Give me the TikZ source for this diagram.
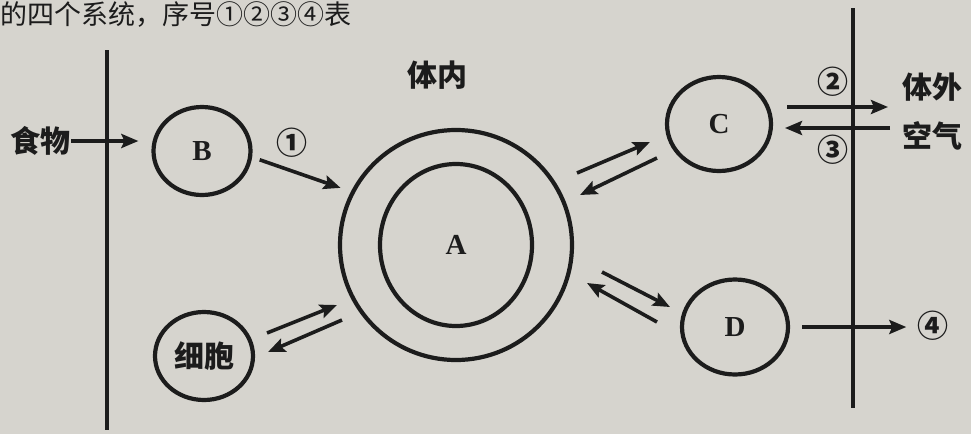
\documentclass[tikz,border=0pt]{standalone}
\usepackage{fontspec}
\setmainfont{Liberation Serif}
\newfontfamily\cjk{Noto Sans CJK SC}
\usetikzlibrary{positioning,arrows.meta,shapes.geometric}
\definecolor{paper}{RGB}{214,212,206}
\definecolor{ink}{RGB}{28,28,28}

\begin{document}
\begin{tikzpicture}[x=1pt,y=-1pt,
  sys/.style={ellipse,draw=ink,line width=4.2pt,inner sep=0pt},
  lab/.style={font=\cjk\bfseries\fontsize{30}{30}\selectfont,text=ink,inner sep=1pt},
  num/.style={font=\cjk\bfseries\fontsize{31}{31}\selectfont,text=ink,inner sep=1pt},
  let/.style={font=\bfseries\fontsize{29}{29}\selectfont,text=ink},
  arr/.style={draw=ink,line width=3.6pt,-{Stealth[length=17pt,width=14pt,inset=3pt]}},
  wall/.style={draw=ink,line width=4.5pt}
]
\fill[paper] (0,0) rectangle (971,434);
\clip (0,0) rectangle (971,434);

% line of the question above
\node[anchor=base west,inner sep=0pt,text=ink,font=\cjk\fontsize{27}{27}\selectfont] (qline) at (0,24) {的四个系统，序号①②③④表};

% body walls
\draw[wall] (107,50) -- (107,430);
\draw[wall] (853,8) -- (853,408);

% systems
\node[sys,minimum width=232pt,minimum height=230pt] (Aout) at (456,245) {};
\node[sys,let,minimum width=152pt,minimum height=162pt] (A) at (456,245) {A};
\node[sys,let,minimum width=97pt,minimum height=88pt] (B) at (202,151) {B};
\node[sys,let,minimum width=104pt,minimum height=94pt] (C) at (719,124) {C};
\node[sys,let,minimum width=106pt,minimum height=95pt] (D) at (735,327) {D};
\node[sys,lab,minimum width=98pt,minimum height=88pt] (cell) at (204,356) {细胞};

% labels
\node[lab] (food) at (40,141) {食物};
\node[lab] (inner) at (437,75) {体内};
\node[lab] (outer) at (932,87) {体外};
\node[lab] (air) at (932,136) {空气};
\node[num] (n1) at (292,143) {①};
\node[num] (n2) at (833,82) {②};
\node[num] (n3) at (833,150) {③};
\node[num] (n4) at (933,326) {④};

% free ends of the arrows
\coordinate (o2s) at (787,107); \coordinate (o2e) at (888,107);
\coordinate (o3s) at (890,128); \coordinate (o3e) at (785,128);
\coordinate (ca1) at (267,333); \coordinate (ca2) at (337,305);
\coordinate (ac1) at (342,320); \coordinate (ac2) at (268,352);
\coordinate (aC1) at (577,173); \coordinate (aC2) at (650,142);
\coordinate (Ca1) at (657,158); \coordinate (Ca2) at (580,195);
\coordinate (aD1) at (602,272); \coordinate (aD2) at (670,307);
\coordinate (Da1) at (657,322); \coordinate (Da2) at (587,283);

% connectors
\draw[arr,shorten >=13pt] (food.east) -- (food.east -| B.west);
\draw[arr,shorten <=8pt,shorten >=11pt] (B.-7) -- (Aout.153);
\draw[arr] (o2s) -- (o2e);
\draw[arr] (o3s) -- (o3e);
\draw[arr,shorten <=12pt,shorten >=10pt] (D.east) -- (D.east -| n4.west);
\foreach \s/\t in {ca1/ca2,ac1/ac2,aC1/aC2,Ca1/Ca2,aD1/aD2,Da1/Da2}
  \draw[arr] (\s) -- (\t);
\end{tikzpicture}
\end{document}
